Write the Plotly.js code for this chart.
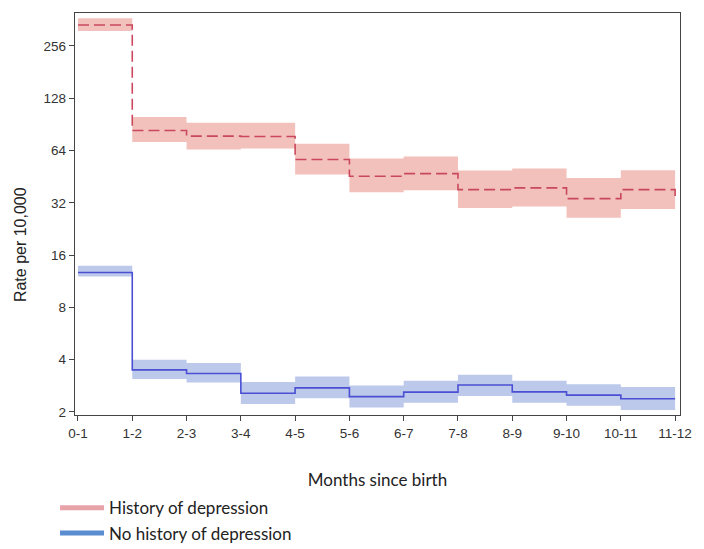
<!DOCTYPE html>
<html>
<head>
<meta charset="utf-8">
<script src="https://cdn.plot.ly/plotly-3.0.1.min.js"></script>
<style>html,body{margin:0;padding:0;background:#fff;}</style>
</head>
<body>
<div id="chart" style="width:704px;height:549px;"></div>
<script>
const months = ["0-1","1-2","2-3","3-4","4-5","5-6","6-7","7-8","8-9","9-10","10-11","11-12"];
const histRate  = [338, 83.4, 77.4, 77.0, 56.8, 45.5, 47.1, 38.1, 39.0, 33.8, 38.1, 34.1];
const histLower = [312, 71.5, 64.9, 65.7, 46.5, 36.8, 37.8, 29.9, 30.5, 26.2, 29.5, 26.2];
const histUpper = [369, 99.6, 92.4, 92.4, 70.0, 57.6, 59.1, 49.1, 50.4, 44.5, 49.3, 46.0];
const noHistRate  = [12.7, 3.49, 3.33, 2.56, 2.75, 2.45, 2.60, 2.86, 2.61, 2.50, 2.38, 2.38];
const noHistLower = [12.06, 3.09, 2.95, 2.22, 2.40, 2.12, 2.26, 2.47, 2.26, 2.17, 2.05, 2.05];
const noHistUpper = [13.9, 4.00, 3.82, 2.97, 3.20, 2.84, 3.02, 3.27, 3.02, 2.89, 2.78, 2.78];
const yTicks = [2, 4, 8, 16, 32, 64, 128, 256];
const legendNames = ["History of depression", "No history of depression"];

const redBand = "rgba(241,182,175,0.85)";
const blueBand = "rgba(178,192,232,0.85)";
const redLine = "#c9485e";
const blueLine = "#4a4fd4";

function band(lower, upper, color) {
  return [
    {x: months, y: lower, type: "scatter", mode: "lines", line: {shape: "hv", width: 0, color: color}, showlegend: false, hoverinfo: "skip"},
    {x: months, y: upper, type: "scatter", mode: "lines", line: {shape: "hv", width: 0, color: color}, fill: "tonexty", fillcolor: color, showlegend: false, hoverinfo: "skip"}
  ];
}

const data = [
  ...band(histLower, histUpper, redBand),
  {x: months, y: histRate, type: "scatter", mode: "lines", line: {shape: "hv", width: 1.6, color: redLine, dash: "11px,5px"}, showlegend: false},
  ...band(noHistLower, noHistUpper, blueBand),
  {x: months, y: noHistRate, type: "scatter", mode: "lines", line: {shape: "hv", width: 1.6, color: blueLine}, showlegend: false},
  {x: [null], y: [null], type: "scatter", mode: "lines", name: legendNames[0], line: {color: "#e8a3a8", width: 5}},
  {x: [null], y: [null], type: "scatter", mode: "lines", name: legendNames[1], line: {color: "#5a8cd0", width: 5}}
];

const tickFont = {family: "Liberation Sans, Arial, sans-serif", size: 13.5, color: "#333"};

const layout = {
  width: 704, height: 549,
  margin: {l: 75, r: 24, t: 13, b: 134},
  paper_bgcolor: "#fff", plot_bgcolor: "#fff",
  showlegend: true,
  xaxis: {
    type: "category",
    categoryorder: "array", categoryarray: months,
    range: [-0.055, 11.09],
    showline: true, linecolor: "#444", linewidth: 1.3, mirror: true,
    ticks: "outside", ticklen: 5, tickcolor: "#444",
    showgrid: false, zeroline: false,
    tickfont: tickFont,
    title: {text: "Months since birth", font: {family: "Lato, sans-serif", size: 17, color: "#222"}, standoff: 40}
  },
  yaxis: {
    type: "log",
    range: [Math.log10(1.92), Math.log10(396)],
    tickvals: yTicks, ticktext: yTicks.map(String),
    showline: true, linecolor: "#444", linewidth: 1.3, mirror: true,
    ticks: "outside", ticklen: 5, tickcolor: "#444",
    showgrid: false, zeroline: false,
    tickfont: tickFont
  },
  legend: {
    xref: "paper", yref: "container",
    x: -0.033, xanchor: "left", y: 0.107, yanchor: "top",
    orientation: "v", traceorder: "normal",
    itemwidth: 44,
    font: {family: "Lato, sans-serif", size: 17, color: "#222"},
    bgcolor: "rgba(0,0,0,0)", tracegroupgap: 0
  },
  annotations: [{
    text: "Rate per 10,000", xref: "paper", yref: "paper",
    x: -0.089, y: 0.423, xanchor: "center", yanchor: "middle",
    textangle: -90, showarrow: false,
    font: {family: "Liberation Sans, Arial, sans-serif", size: 16, color: "#222"}
  }]
};

Plotly.newPlot("chart", data, layout, {displayModeBar: false, staticPlot: true});
</script>
</body>
</html>
